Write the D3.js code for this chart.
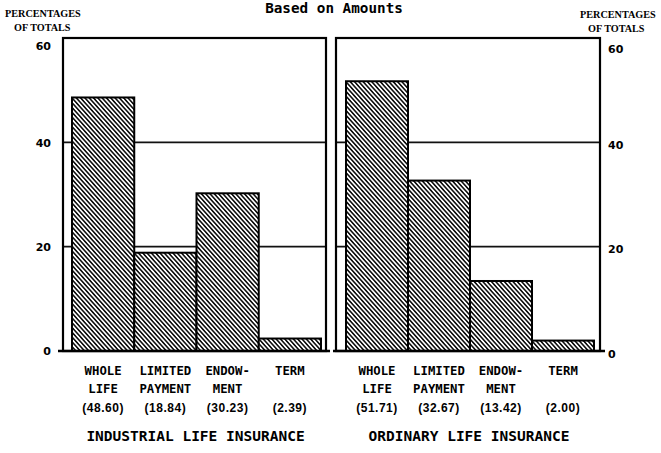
<!DOCTYPE html>
<html>
<head>
<meta charset="utf-8">
<script src="https://cdn.jsdelivr.net/npm/d3@7"></script>
<style>
  body { margin: 0; background: #fff; }
  svg { display: block; }
</style>
</head>
<body>
<svg width="661" height="453"></svg>
<script>
// data
const catLine1 = ['WHOLE', 'LIMITED', 'ENDOW-', 'TERM'];
const catLine2 = ['LIFE', 'PAYMENT', 'MENT', ''];
const industrial = [48.60, 18.84, 30.23, 2.39];
const ordinary = [51.71, 32.67, 13.42, 2.00];
const industrialLabels = ['(48.60)', '(18.84)', '(30.23)', '(2.39)'];
const ordinaryLabels = ['(51.71)', '(32.67)', '(13.42)', '(2.00)'];
const panelTitles = ['INDUSTRIAL LIFE INSURANCE', 'ORDINARY LIFE INSURANCE'];
const yTicks = [0, 20, 40, 60];
const gridTicks = [20, 40];

const svg = d3.select('svg');

const defs = svg.append('defs');
const hatch = defs.append('pattern')
    .attr('id', 'hatch')
    .attr('patternUnits', 'userSpaceOnUse')
    .attr('width', 3.2)
    .attr('height', 10)
    .attr('patternTransform', 'rotate(-42)');
hatch.append('rect').attr('width', 3.2).attr('height', 10).attr('fill', '#fff');
hatch.append('rect').attr('x', 0).attr('width', 1.6).attr('height', 10).attr('fill', '#111');

const y = d3.scaleLinear().domain([0, 60]).range([351, 38]);

const panels = [
    { frame: [63, 326], bars: [72, 321], values: industrial, labels: industrialLabels, title: panelTitles[0], base: [58, 330] },
    { frame: [336, 600], bars: [346, 594], values: ordinary, labels: ordinaryLabels, title: panelTitles[1], base: [333, 605] }
];

const monoFont = "'DejaVu Sans Mono', monospace";

panels.forEach(function (p) {
    const x = d3.scaleBand().domain(catLine1).range(p.bars).padding(0);
    const g = svg.append('g');

    // grid lines
    g.selectAll('line.grid')
        .data(gridTicks)
        .enter().append('line')
        .attr('class', 'grid')
        .attr('x1', p.frame[0]).attr('x2', p.frame[1])
        .attr('y1', function (d) { return y(d); })
        .attr('y2', function (d) { return y(d); })
        .attr('stroke', '#111')
        .attr('stroke-width', 1.8);

    // bars
    g.selectAll('rect.bar')
        .data(p.values)
        .enter().append('rect')
        .attr('class', 'bar')
        .attr('x', function (d, i) { return x(catLine1[i]); })
        .attr('y', function (d) { return y(d); })
        .attr('width', x.bandwidth())
        .attr('height', function (d) { return y(0) - y(d); })
        .attr('fill', 'url(#hatch)')
        .attr('stroke', '#000')
        .attr('stroke-width', 2);

    // frame
    g.append('rect')
        .attr('x', p.frame[0])
        .attr('y', y(60))
        .attr('width', p.frame[1] - p.frame[0])
        .attr('height', y(0) - y(60))
        .attr('fill', 'none')
        .attr('stroke', '#000')
        .attr('stroke-width', 2.2);

    g.append('line')
        .attr('x1', p.base[0]).attr('x2', p.base[1])
        .attr('y1', y(0)).attr('y2', y(0))
        .attr('stroke', '#000')
        .attr('stroke-width', 2.6);

    // category labels
    const lab = g.append('g')
        .attr('font-family', monoFont)
        .attr('font-weight', 'bold')
        .attr('text-anchor', 'middle')
        .attr('fill', '#000');
    lab.selectAll('text.c1')
        .data(catLine1)
        .enter().append('text')
        .attr('x', function (d) { return x(d) + x.bandwidth() / 2; })
        .attr('y', 375)
        .attr('font-size', 12.3)
        .text(function (d) { return d; });
    lab.selectAll('text.c2')
        .data(catLine2)
        .enter().append('text')
        .attr('x', function (d, i) { return x(catLine1[i]) + x.bandwidth() / 2; })
        .attr('y', 393)
        .attr('font-size', 12.3)
        .text(function (d) { return d; });
    lab.selectAll('text.v')
        .data(p.labels)
        .enter().append('text')
        .attr('x', function (d, i) { return x(catLine1[i]) + x.bandwidth() / 2; })
        .attr('y', 412)
        .attr('font-family', "'Liberation Sans', Arial, sans-serif")
        .attr('font-size', 12)
        .attr('letter-spacing', 0.5)
        .text(function (d) { return d; });
    lab.append('text')
        .attr('x', (p.frame[0] + p.frame[1]) / 2 + 1)
        .attr('y', 441)
        .attr('font-size', 14.5)
        .text(p.title);
});

// y axes
const leftAxis = d3.axisLeft(y).tickValues(yTicks).tickSize(0).tickPadding(0);
const rightAxis = d3.axisRight(y).tickValues(yTicks).tickSize(0).tickPadding(0);

const axL = svg.append('g').attr('transform', 'translate(51,0)').call(leftAxis);
const axR = svg.append('g').attr('transform', 'translate(608,0)').call(rightAxis);
[axL, axR].forEach(function (ax) {
    ax.select('.domain').remove();
    ax.selectAll('text')
        .attr('font-family', "'DejaVu Sans', sans-serif")
        .attr('font-weight', 'bold')
        .attr('font-size', 11)
        .attr('fill', '#000')
        .attr('dy', function (d) { return d === 60 ? '1.05em' : '0.36em'; });
});
axR.selectAll('text').attr('dy', function (d) { return d === 60 ? '1.3em' : '0.55em'; });

// axis captions
const cap = svg.append('g')
    .attr('font-family', "'Liberation Serif', 'Times New Roman', serif")
    .attr('font-weight', 'bold')
    .attr('font-size', 10.2)
    .attr('fill', '#000');
cap.append('text').attr('x', 5).attr('y', 17).text('PERCENTAGES');
cap.append('text').attr('x', 14).attr('y', 31).text('OF TOTALS');
cap.append('text').attr('x', 580).attr('y', 18).text('PERCENTAGES');
cap.append('text').attr('x', 588).attr('y', 32).text('OF TOTALS');

// title
svg.append('text')
    .attr('x', 334)
    .attr('y', 13)
    .attr('text-anchor', 'middle')
    .attr('font-family', monoFont)
    .attr('font-weight', 'bold')
    .attr('font-size', 14.3)
    .attr('fill', '#000')
    .text('Based on Amounts');
</script>
</body>
</html>
